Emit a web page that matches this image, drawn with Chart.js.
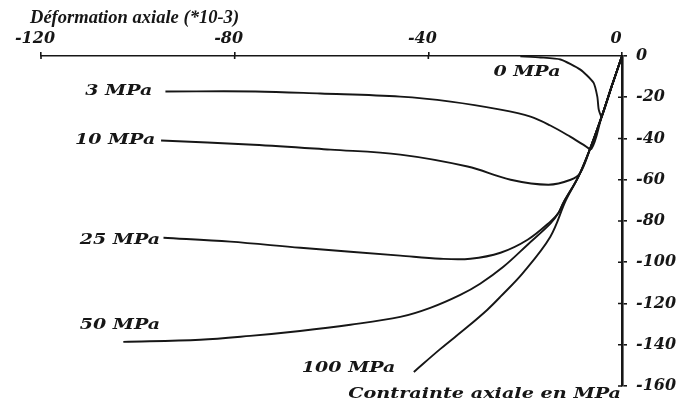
<!DOCTYPE html>
<html><head><meta charset="utf-8">
<script src="https://cdn.jsdelivr.net/npm/chart.js@4/dist/chart.umd.min.js"></script>
<style>html,body{margin:0;padding:0;background:#fff}canvas{display:block}</style>
</head><body>
<canvas id="c" width="687" height="405"></canvas>
<script>
// ---- data (strain in 10^-3, stress in MPa) ----
const xTicks = [-120, -80, -40, 0];
const yTicks = [0, -20, -40, -60, -80, -100, -120, -140, -160];
const seriesNames = ['0 MPa', '3 MPa', '10 MPa', '25 MPa', '50 MPa', '100 MPa'];

const strain0 = [0, -2.1, -4.2, -4.8, -5.1, -5.9, -8.6, -12.7, -16.8, -21.0];
const stress0 = [0, -14.5, -29.4, -26.0, -19.7, -12.9, -6.6, -1.7, -0.7, -0.2];

const strain3 = [0, -2.1, -4.2, -6.3, -8.0, -10.7, -14.8, -18.9, -25.1, -35.4, -45.8, -62.3, -75.7, -94.3];
const stress3 = [0, -14.5, -29.4, -44.9, -43.0, -39.1, -33.7, -29.4, -26.0, -22.1, -19.7, -18.2, -17.2, -17.2];

const strain10 = [0, -2.1, -4.2, -6.5, -8.6, -10.6, -15.2, -23.0, -31.9, -45.8, -60.2, -76.1, -95.2];
const stress10 = [0, -14.5, -29.4, -44.4, -56.6, -60.0, -62.4, -60.0, -53.6, -47.8, -45.4, -43.0, -41.0];

const strain25 = [0, -2.1, -4.2, -6.5, -9.0, -12.1, -13.1, -14.8, -19.5, -25.1, -31.3, -37.5, -45.8, -66.4, -80.9, -94.7];
const stress25 = [0, -14.5, -29.4, -44.4, -58.5, -71.1, -76.0, -80.3, -89.1, -95.4, -98.3, -98.3, -96.8, -93.0, -90.0, -88.1];

const strain50 = [0, -2.1, -4.2, -6.5, -9.0, -12.1, -13.1, -14.8, -19.5, -24.5, -29.3, -33.4, -39.6, -45.8, -56.1, -66.5, -76.8, -87.1, -103.0];
const stress50 = [0, -14.5, -29.4, -44.4, -58.5, -71.1, -76.0, -81.3, -91.5, -102.2, -110.4, -115.8, -122.1, -126.5, -130.3, -133.3, -135.7, -137.6, -138.6];

const strain100 = [0, -2.1, -4.2, -6.5, -9.0, -11.6, -14.8, -20.4, -25.1, -27.8, -31.9, -37.5, -43.0];
const stress100 = [0, -14.5, -29.4, -44.4, -58.5, -70.0, -87.6, -105.0, -116.7, -123.0, -131.3, -142.0, -153.2];

// where each curve's name is written (data units, right edge / middle)
const labelStrain = [-12.7, -97.0, -96.4, -95.4, -95.4, -46.8];
const labelStress = [-8.0, -17.2, -41.0, -89.1, -130.4, -151.2];

const xTitle = 'Déformation axiale (*10-3)';
const yTitle = 'Contrainte axiale en MPa';

// ---- build ----
const strains = [strain0, strain3, strain10, strain25, strain50, strain100];
const stresses = [stress0, stress3, stress10, stress25, stress50, stress100];
const INK = '#161616';
const FONT = '"DejaVu Serif", "Liberation Serif", serif';
const TITLE_FONT = '"Liberation Serif", "DejaVu Serif", serif';

const datasets = seriesNames.map((name, i) => ({
  label: name,
  data: strains[i].map((x, k) => ({x: x, y: stresses[i][k]})),
  showLine: true,
  borderColor: INK,
  borderWidth: 1.9,
  pointRadius: 0,
  tension: i === 0 ? 0.2 : 0.35,
  fill: false,
  clip: 6
}));

function stretchedText(ctx, text, x, y, align, sx, size, family) {
  ctx.save();
  ctx.font = 'italic bold ' + size + 'px ' + (family || FONT);
  ctx.textBaseline = 'middle';
  ctx.textAlign = 'left';
  const w = ctx.measureText(text).width * sx;
  const x0 = align === 'right' ? x - w : (align === 'center' ? x - w / 2 : x);
  ctx.translate(x0, y);
  ctx.scale(sx, 1);
  ctx.fillStyle = INK;
  ctx.fillText(text, 0, 0);
  ctx.restore();
}

const decor = {
  id: 'decor',
  afterDatasetsDraw(chart) {
    const ctx = chart.ctx;
    const xs = chart.scales.x, ys = chart.scales.y;
    const ca = chart.chartArea;
    ctx.save();
    ctx.strokeStyle = INK;
    ctx.lineWidth = 1.6;
    ctx.beginPath();
    xTicks.forEach(v => {
      if (v === 0) return;
      const px = xs.getPixelForValue(v);
      ctx.moveTo(px, ca.top); ctx.lineTo(px, ca.top + 3);
    });
    yTicks.forEach(v => {
      if (v === 0) return;
      const py = ys.getPixelForValue(v);
      ctx.moveTo(ca.right - 4, py); ctx.lineTo(ca.right, py);
    });
    ctx.stroke();
    ctx.restore();
    seriesNames.forEach((n, i) => {
      stretchedText(ctx, n, xs.getPixelForValue(labelStrain[i]), ys.getPixelForValue(labelStress[i]), 'right', 1.27, 15);
    });
    stretchedText(ctx, xTitle, 30, 18, 'left', 1.03, 18, TITLE_FONT);
    stretchedText(ctx, yTitle, ca.right - 1, ca.bottom + 8, 'right', 1.28, 15);
  }
};

new Chart(document.getElementById('c'), {
  type: 'scatter',
  data: {datasets},
  options: {
    responsive: false,
    animation: false,
    devicePixelRatio: 1,
    layout: {padding: {left: 41, right: 0, top: 0, bottom: 19}},
    plugins: {legend: {display: false}, tooltip: {enabled: false}, title: {display: false}},
    scales: {
      x: {
        type: 'linear', position: 'top', min: -120, max: 0,
        afterFit(s) { s.height = 56; },
        afterBuildTicks(s) { s.ticks = xTicks.map(v => ({value: v})); },
        border: {display: true, color: INK, width: 1.6},
        grid: {drawOnChartArea: false, drawTicks: true, tickLength: 4, color: INK, lineWidth: 1.6},
        ticks: {color: INK, padding: 4, labelOffset: -6, maxRotation: 0, autoSkip: false,
                font: {family: FONT, style: 'italic', weight: 'bold', size: 16}}
      },
      y: {
        type: 'linear', position: 'right', min: -160, max: 0,
        afterFit(s) { s.width = 65; },
        afterBuildTicks(s) { s.ticks = yTicks.map(v => ({value: v})); },
        border: {display: true, color: INK, width: 2.6},
        grid: {drawOnChartArea: false, drawTicks: true, tickLength: 5, color: INK, lineWidth: 1.6},
        ticks: {color: INK, padding: 9, autoSkip: false,
                font: {family: FONT, style: 'italic', weight: 'bold', size: 16}}
      }
    }
  },
  plugins: [decor]
});
</script>
</body></html>
